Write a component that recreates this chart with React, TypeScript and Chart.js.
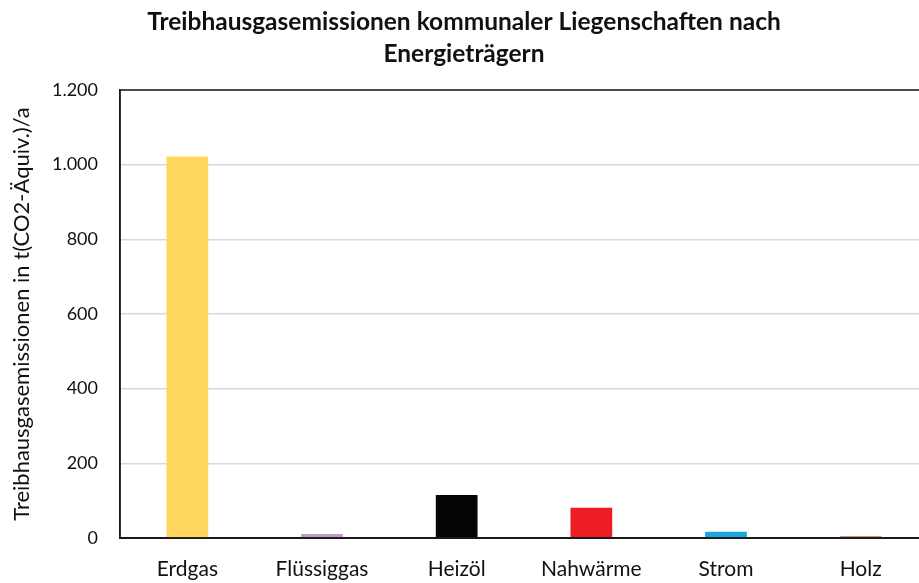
import React, { useEffect, useRef } from "react";
import { Chart, registerables } from "chart.js";

Chart.register(...registerables);

const categories = ["Erdgas", "Flüssiggas", "Heizöl", "Nahwärme", "Strom", "Holz"];
const values = [1022, 11, 115, 81, 17, 5];
const barColors = ["#FFD75E", "#C09BC8", "#050505", "#EE1C25", "#1AA7DE", "#C8734A"];
const titleLines = ["Treibhausgasemissionen kommunaler Liegenschaften nach", "Energieträgern"];
const yAxisTitle = "Treibhausgasemissionen in t(CO2-Äquiv.)/a";

const FONT = "Lato, 'Liberation Sans', sans-serif";

const fmt = (v: number) => String(v).replace(/\B(?=(\d{3})+(?!\d))/g, ".");

const borderPlugin = {
  id: "areaBorder",
  afterDraw(chart: any) {
    const { ctx, chartArea } = chart;
    ctx.save();
    ctx.strokeStyle = "#1a1a1a";
    ctx.lineWidth = 1.5;
    ctx.strokeRect(chartArea.left, chartArea.top, chartArea.right - chartArea.left, chartArea.bottom - chartArea.top);
    ctx.restore();
  },
};

export default function App() {
  const ref = useRef<HTMLCanvasElement | null>(null);
  useEffect(() => {
    if (!ref.current) return;
    const chart = new Chart(ref.current, {
      type: "bar",
      data: {
        labels: categories,
        datasets: [
          {
            data: values,
            backgroundColor: barColors,
            borderWidth: 0,
            categoryPercentage: 1,
            barPercentage: 0.31,
          },
        ],
      },
      plugins: [borderPlugin],
      options: {
        responsive: false,
        animation: false,
        layout: { padding: { top: 0, right: 0, bottom: 0, left: 0 } },
        plugins: {
          legend: { display: false },
          tooltip: { enabled: false },
          title: {
            display: true,
            text: titleLines,
            color: "#111",
            font: { family: FONT, size: 24.5, weight: "bold", lineHeight: "32px" },
            padding: { top: 6, bottom: 20 },
          },
        },
        scales: {
          x: {
            grid: { display: false, drawTicks: false },
            border: { color: "#1a1a1a", width: 2 },
            ticks: { color: "#111", font: { family: FONT, size: 21 }, padding: 19, maxRotation: 0, autoSkip: false },
            afterFit: (s: any) => { s.height = 45; },
          },
          y: {
            min: 0,
            max: 1200,
            ticks: { stepSize: 200, color: "#111", font: { family: FONT, size: 18 }, padding: 22, callback: (v: any) => fmt(Number(v)) },
            grid: { color: "#d9d9d9", lineWidth: 1.5, drawTicks: false },
            border: { color: "#1a1a1a", width: 1.5 },
            title: {
              display: true,
              text: yAxisTitle,
              color: "#111",
              font: { family: FONT, size: 22 },
              padding: { top: 9, bottom: 0 },
            },
            afterFit: (s: any) => { s.width = 120; },
          },
        },
      },
    } as any);
    return () => chart.destroy();
  }, []);
  return (
    <div style={{ position: "fixed", left: 0, top: 0, width: 919, height: 583, overflow: "hidden", background: "#fff" }}>
      <canvas ref={ref} width={928} height={583} style={{ display: "block", width: 928, height: 583 }} />
    </div>
  );
}
